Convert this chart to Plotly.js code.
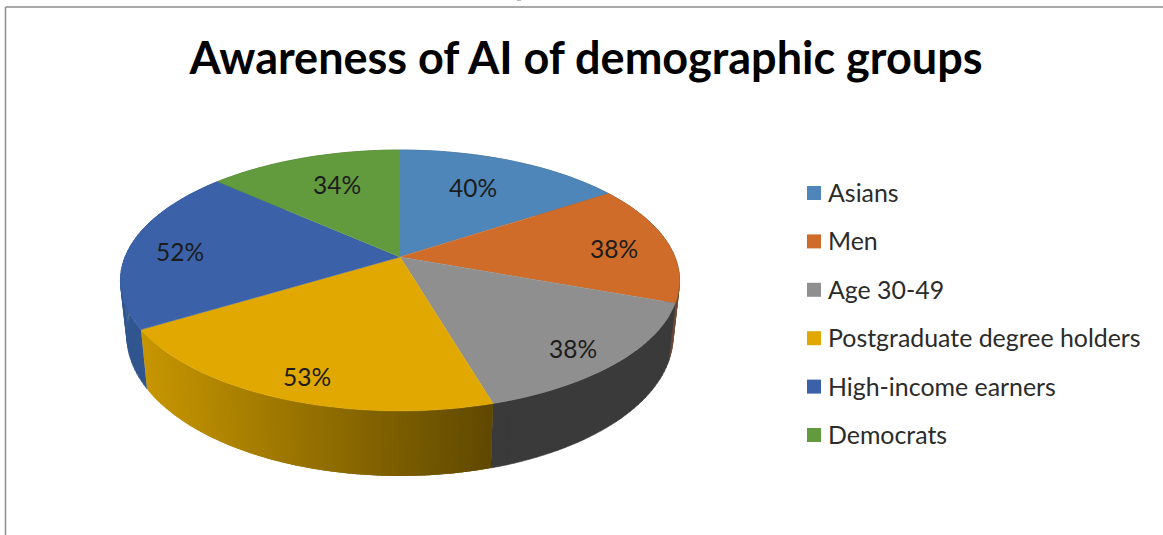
<!DOCTYPE html>
<html>
<head>
<meta charset="utf-8">
<script src="https://cdn.plot.ly/plotly-3.0.1.min.js"></script>
<style>html,body{margin:0;padding:0;background:#fff;overflow:hidden}#chart{width:1163px;height:535px}</style>
</head>
<body>
<div id="chart"></div>
<script>
// ---- data ----
const categories = ["Asians", "Men", "Age 30-49", "Postgraduate degree holders", "High-income earners", "Democrats"];
const values = [40, 38, 38, 53, 52, 34];
const titleText = "Awareness of AI of demographic groups";

// ---- styles ----
const topColors = ["#4e86b9", "#cf6c29", "#8f8f8f", "#e0a800", "#3b62a9", "#629a3e"];
const sideColors = ["#3a6489", "#6b4a35", "#3a3a3a", null, "#31558f", "#497330"];
const goldLeft = [199, 150, 0], goldRight = [95, 72, 0];
const labelRadius = [0.683, 0.79, 0.847, 0.861, 0.808, 0.694];
const labelTurn = [-2.6, 2.0, 2.0, -1.6, -1.9, 2.4];

// ---- perspective projection of the disc onto the page ----
const W = 1163, H = 535, cx = 400, k = -0.18;
const topPlane = {R: 275, a: 80, b: 257};
const basePlane = {R: 268.6, a: 79.1, b: 311.2};
const rad = d => d * Math.PI / 180;
function project(plane, deg, r = 1) {
  const u = r * Math.sin(rad(deg)), v = -r * Math.cos(rad(deg)), w = 1 + k * v;
  return [cx + plane.R * u / w, (plane.a * v + plane.b) / w];
}
function arc(plane, d0, d1) {
  const n = Math.max(2, Math.ceil(Math.abs(d1 - d0) / 1.5)), pts = [];
  for (let i = 0; i <= n; i++) pts.push(project(plane, d0 + (d1 - d0) * i / n));
  return pts;
}
const total = values.reduce((s, v) => s + v, 0);
const starts = [];
values.reduce((acc, v, i) => { starts[i] = acc / total * 360; return acc + v; }, 0);
const ends = values.map((v, i) => starts[i] + v / total * 360);

function polyTrace(xs, ys, color, name, lw) {
  return {
    type: "scatter", mode: "lines", x: xs, y: ys,
    fill: "toself", fillcolor: color, line: {color: color, width: lw},
    name: name, showlegend: false, hoverinfo: "skip"
  };
}
function quad(a, b) {
  const pts = [project(topPlane, a), project(topPlane, b), project(basePlane, b), project(basePlane, a), project(topPlane, a)];
  return {x: pts.map(p => p[0]), y: pts.map(p => p[1])};
}
const traces = [];
// side walls, farthest first
const order = values.map((_, i) => i).sort((a, b) =>
  -Math.cos(rad((starts[a] + ends[a]) / 2)) - -Math.cos(rad((starts[b] + ends[b]) / 2)));
order.forEach(i => {
  if (sideColors[i]) {
    const n = Math.ceil((ends[i] - starts[i]) / 1.5), step = (ends[i] - starts[i]) / n;
    const xs = [], ys = [];
    for (let s = 0; s < n; s++) {
      const q = quad(starts[i] + s * step, starts[i] + (s + 1) * step);
      xs.push(...q.x, null); ys.push(...q.y, null);
    }
    traces.push(polyTrace(xs, ys, sideColors[i], categories[i], 0.6));
  } else {
    // gradient wall: painted from left to right, each strip overlapping the next
    const n = Math.ceil((ends[i] - starts[i]) / 0.75), step = (ends[i] - starts[i]) / n;
    const xLeft = project(basePlane, ends[i])[0], xRight = project(basePlane, starts[i])[0];
    for (let s = 0; s < n; s++) {
      const a = ends[i] - s * step, b = Math.max(starts[i], a - 2.2 * step);
      const t = (project(basePlane, a - step / 2)[0] - xLeft) / (xRight - xLeft);
      const c = goldLeft.map((g, j) => Math.round(g + (goldRight[j] - g) * t));
      const q = quad(a, b);
      traces.push(polyTrace(q.x, q.y, `rgb(${c.join(",")})`, categories[i], 0));
    }
  }
});
// top face
values.forEach((_, i) => {
  const pts = [project(topPlane, 0, 0)].concat(arc(topPlane, starts[i], ends[i]));
  traces.push(polyTrace(pts.map(p => p[0]), pts.map(p => p[1]), topColors[i], categories[i], 0.5));
});

// legend
const legendX = 814, legendTextX = 827, legendTop = 193, legendGap = 48.4;
categories.forEach((c, i) => {
  traces.push({
    type: "scatter", mode: "markers", x: [legendX], y: [legendTop + i * legendGap],
    marker: {symbol: "square", size: 14, color: topColors[i]},
    name: c, showlegend: false, hoverinfo: "skip"
  });
});

const font = "Lato, 'Open Sans', sans-serif";
const annotations = [];
categories.forEach((c, i) => annotations.push({
  x: legendTextX, y: legendTop + i * legendGap - 1, xref: "x", yref: "y", text: c, showarrow: false,
  xanchor: "left", yanchor: "middle", borderpad: 0, font: {family: font, size: 24.9, color: "#2b2b2b"}
}));
values.forEach((v, i) => {
  const p = project(topPlane, (starts[i] + ends[i]) / 2 + labelTurn[i], labelRadius[i]);
  annotations.push({
    x: p[0], y: p[1], xref: "x", yref: "y", text: v + "%", showarrow: false,
    xanchor: "center", yanchor: "middle", borderpad: 0, font: {family: font, size: 24.5, color: "#1c1c1c"}
  });
});

const frame = "#8c8c8c";
const layout = {
  width: W, height: H, margin: {l: 0, r: 0, t: 0, b: 0},
  paper_bgcolor: "#ffffff", plot_bgcolor: "#ffffff", showlegend: false, hovermode: false,
  title: {text: "<b>" + titleText + "</b>", x: 586 / W, xanchor: "center", xref: "paper",
          y: 1 - 58 / H, yanchor: "middle", yref: "paper", font: {family: font, size: 45, color: "#000000"}},
  xaxis: {range: [0, W], visible: false, fixedrange: true},
  yaxis: {range: [H, 0], visible: false, fixedrange: true},
  annotations: annotations,
  shapes: [
    {type: "line", xref: "x", yref: "y", x0: 5.5, x1: W, y0: 7, y1: 7, line: {color: frame, width: 1.5}},
    {type: "line", xref: "x", yref: "y", x0: 5.5, x1: 5.5, y0: 7, y1: H, line: {color: frame, width: 1.5}},
    {type: "line", xref: "x", yref: "y", x0: 517, x1: 521, y0: 0.5, y1: 0.5, line: {color: "#bbbbbb", width: 1}}
  ]
};
Plotly.newPlot("chart", traces, layout, {displayModeBar: false, staticPlot: true});
</script>
</body>
</html>
